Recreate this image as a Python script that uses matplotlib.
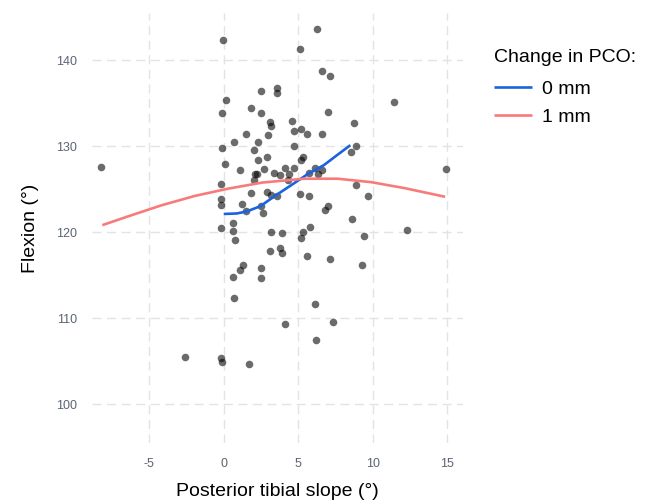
import matplotlib
matplotlib.use("Agg")
import matplotlib.pyplot as plt

plt.rcParams['font.family'] = ['Liberation Sans', 'DejaVu Sans']

# Scatter data: posterior tibial slope (deg) vs flexion (deg)
slope = [6.25, -0.07, 5.1, 6.6, 7.1, 2.5, 3.6, 3.6, 11.4, 0.15, -0.1, 1.8, 2.5, 7.0,
         3.1, 3.2, 4.6, 8.7, 1.5, 3.0, 4.7, 5.2, 5.6, 6.6, 0.7, 2.3, -0.1, 2.0, 4.7,
         8.9, 8.5, 2.9, 2.3, 5.3, 5.2, 0.07, 1.07, 2.7, 4.1, 4.7, 6.1, 6.6, 6.3, 5.7,
         2.1, 2.2, 3.4, 3.8, 4.4, 4.3, 2.0, -8.2, 14.9, -0.2, 8.9, 9.7, 1.8, 2.9, 3.2,
         3.6, 5.1, 5.7, -0.2, -0.2, 1.2, 1.5, 2.5, 2.6, 7.0, 6.8, 8.6, 0.6, -0.2, 0.6,
         3.2, 3.9, 5.3, 5.8, 5.2, 9.4, 12.3, 0.75, 3.1, 3.75, 3.9, 5.6, 7.1, 9.3, 1.3,
         1.1, 2.5, 2.5, 0.6, 0.7, 6.1, 4.1, 7.3, 6.2, -2.6, -0.2, -0.1, 1.7]
flexion = [143.6, 142.3, 141.3, 138.7, 138.1, 136.4, 136.8, 136.2, 135.1, 135.3, 133.8,
           134.4, 133.9, 134.0, 132.8, 132.3, 132.9, 132.7, 131.4, 131.3, 131.8, 132.0,
           131.4, 131.4, 130.5, 130.5, 129.8, 129.5, 130.0, 130.0, 129.3, 128.7, 128.4,
           128.7, 128.4, 127.9, 127.2, 127.3, 127.4, 127.5, 127.5, 127.2, 126.8, 126.9,
           126.7, 126.7, 126.9, 126.6, 126.7, 126.1, 126.0, 127.6, 127.3, 125.6, 125.5,
           124.2, 124.5, 124.6, 124.3, 124.2, 124.4, 124.2, 123.8, 123.1, 123.3, 122.4,
           123.0, 122.2, 123.0, 122.6, 121.5, 121.1, 120.5, 120.1, 120.0, 119.9, 120.0,
           120.6, 119.3, 119.5, 120.2, 119.1, 117.8, 118.2, 117.6, 117.2, 116.9, 116.2,
           116.2, 115.6, 115.8, 114.7, 114.8, 112.3, 111.6, 109.3, 109.5, 107.5, 105.5,
           105.3, 104.9, 104.6]

# Fitted curves by change in PCO
pco0_x = [0.0, 0.88, 1.55, 2.45, 3.35, 4.48, 5.6, 6.73, 7.64, 8.49]
pco0_y = [122.1, 122.16, 122.4, 123.0, 124.1, 125.4, 126.7, 127.8, 129.0, 130.1]
pco1_x = [-8.14, -6.45, -4.19, -1.94, 0.31, 2.57, 5.38, 7.64, 9.89, 12.14, 14.84]
pco1_y = [120.8, 121.8, 123.1, 124.2, 125.05, 125.75, 126.2, 126.2, 125.8, 125.1, 124.1]

x_ticks = [-5, 0, 5, 10, 15]
y_ticks = [100, 110, 120, 130, 140]
series_labels = ['0 mm', '1 mm']
series_colors = ['#1a63e0', '#f77b7b']

fig = plt.figure(figsize=(6.48, 5.03), dpi=100)
ax = fig.add_axes([92/648, 1-443/503, (463-92)/648, (443-13)/503])

ax.scatter(slope, flexion, s=30, color='black', alpha=0.58, linewidths=0, zorder=3)
l0, = ax.plot(pco0_x, pco0_y, color=series_colors[0], lw=1.9, zorder=4, solid_capstyle='butt')
l1, = ax.plot(pco1_x, pco1_y, color=series_colors[1], lw=1.9, zorder=4, solid_capstyle='butt')

ax.set_xlim(-8.83, 16.04)
ax.set_ylim(95.47, 145.47)
ax.set_xticks(x_ticks)
ax.set_yticks(y_ticks)
ax.set_xticklabels([str(t) for t in x_ticks])
ax.set_yticklabels([str(t) for t in y_ticks])
ax.grid(True, color='#e3e3e3', lw=1.0, linestyle=(0, (6.5, 4)))
ax.set_axisbelow(True)
for s in ax.spines.values():
    s.set_visible(False)
ax.tick_params(length=0, labelsize=9, labelcolor='#5b6475', pad=11)

ax.set_xlabel('Posterior tibial slope (°)', fontsize=14, color='black', labelpad=9)
ax.set_ylabel('Flexion (°)', fontsize=14, color='black', labelpad=12)

leg = fig.legend([l0, l1], series_labels, title='Change in PCO:',
                 loc='upper left', bbox_to_anchor=(494/648, 1-49/503),
                 frameon=False, fontsize=14, title_fontsize=14,
                 handlelength=1.95, handletextpad=0.5, labelspacing=0.56,
                 borderaxespad=0, borderpad=0)
leg._legend_box.align = 'left'
leg._legend_box.sep = 10

fig.savefig('out.png', dpi=100)
